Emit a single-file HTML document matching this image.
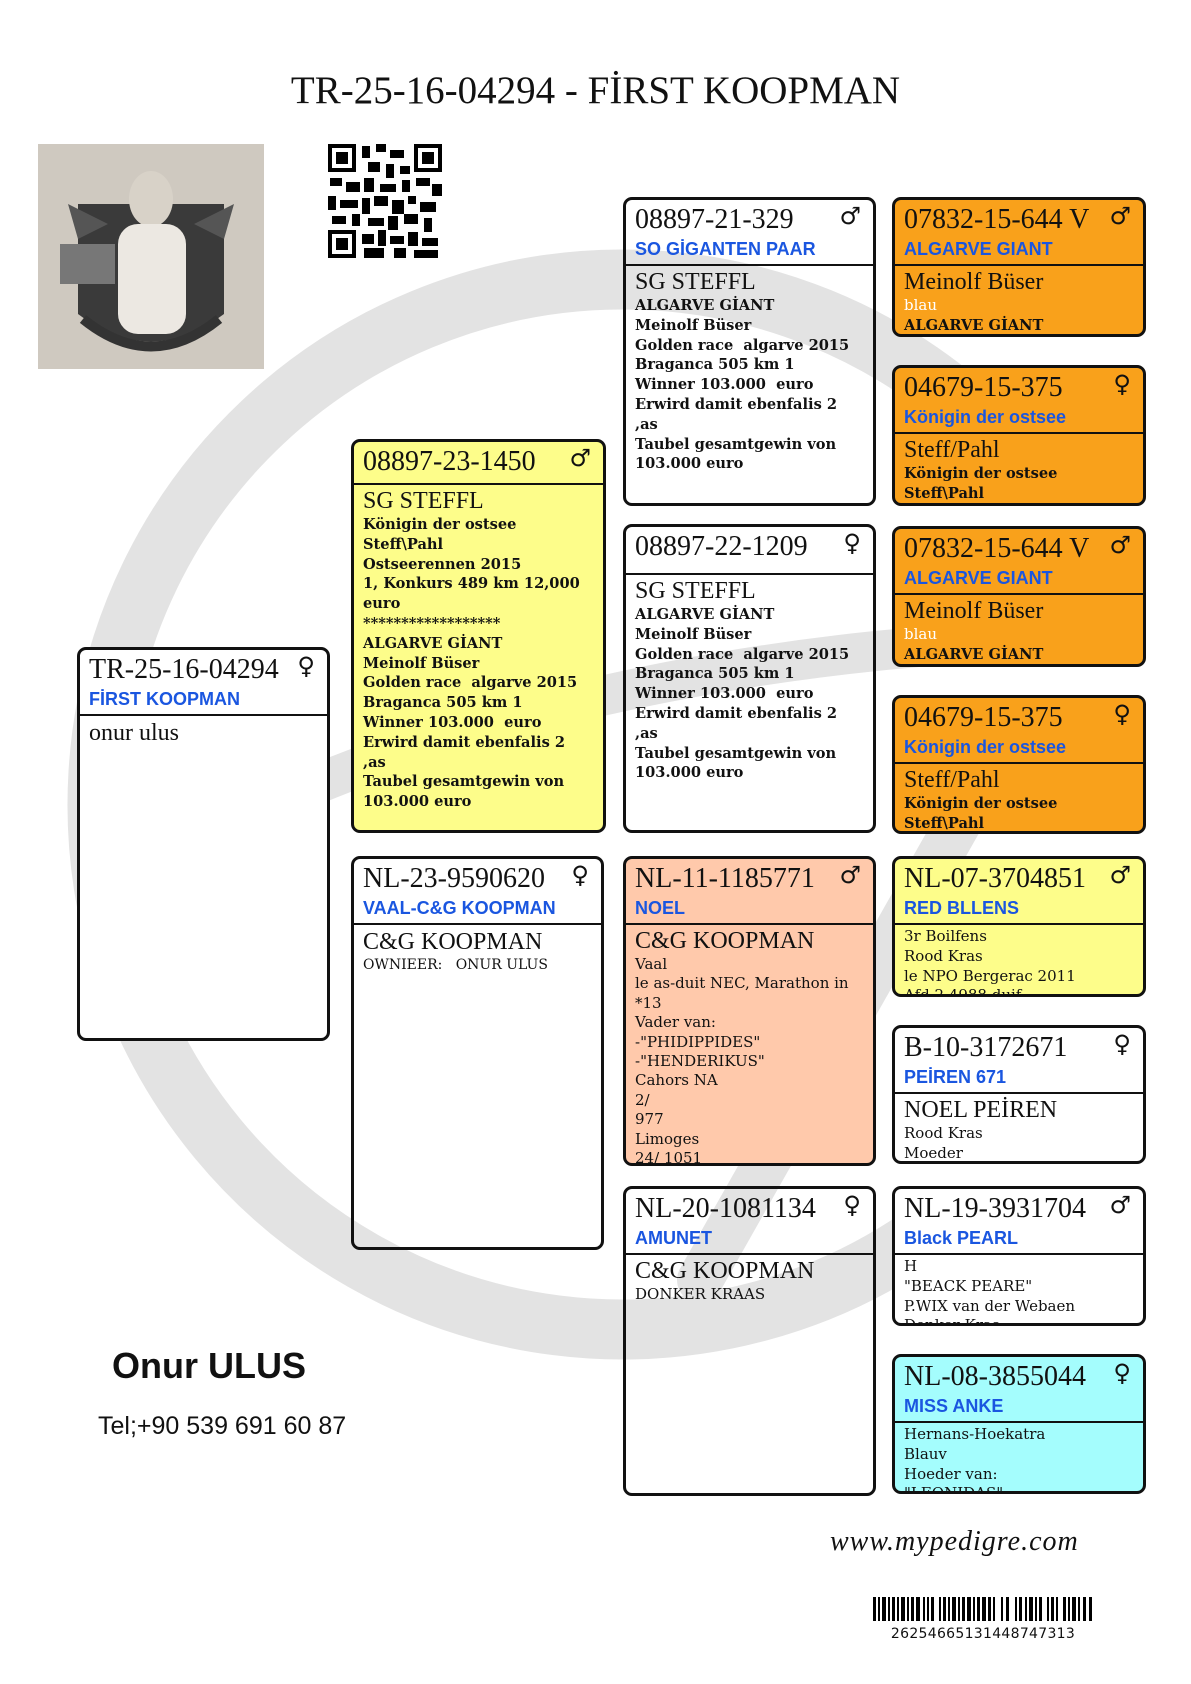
<!DOCTYPE html>
<html><head><meta charset="utf-8"><style>
*{margin:0;padding:0;box-sizing:border-box}
body{width:1191px;height:1684px;background:#fff;position:relative;overflow:hidden;font-family:"Liberation Serif",serif;color:#111}
.a{position:absolute}
.box{position:absolute;border:3px solid #111;border-radius:9px;overflow:hidden;background:#fff}
.id{position:absolute;left:9px;top:4px;font-size:28px;line-height:32px;white-space:nowrap}
.sx{position:absolute;right:12px;top:2px;font-size:24px;line-height:28px;font-family:"DejaVu Sans",sans-serif}
.nm{position:absolute;left:9px;top:38px;font:bold 18px/22px "Liberation Sans",sans-serif;color:#1a56e0;white-space:nowrap}
.hr{position:absolute;left:0;right:0;height:2px;background:#111}
.bd{position:absolute;left:9px;right:4px;white-space:nowrap}
.big{font-size:24px;line-height:28px}
.b{font-family:"DejaVu Serif",serif;font-weight:bold;font-size:14.6px;line-height:19.8px}
.r{font-family:"DejaVu Serif",serif;font-size:15px;line-height:19.8px}
.w{color:#fff}
.org{background:#f9a11b}.yel{background:#fdfd8a}.sal{background:#ffc9ab}.cy{background:#a4fdfd}
</style></head><body>

<svg class="a" style="left:0;top:0" width="1191" height="1684">
<g fill="none" stroke="#e3e3e3" stroke-width="60" stroke-linecap="round">
<path d="M 980 420 A 525 525 0 1 0 930 1230"/>
<path d="M 280 800 C 500 700 820 640 1080 640" stroke-width="40"/>
<path d="M 700 1280 L 960 820" stroke-width="46"/>
</g>
</svg>

<div class="a" style="left:0;top:68px;width:1191px;text-align:center;font-size:39px;line-height:46px">TR-25-16-04294 - FİRST KOOPMAN</div>

<svg class="a" style="left:38px;top:144px" width="226" height="225">
<rect width="226" height="225" fill="#cfc9c0"/>
<path d="M40 60 L186 60 L186 170 Q113 225 40 170Z" fill="#3a3a3a"/>
<ellipse cx="113" cy="55" rx="22" ry="28" fill="#d8d2c8"/>
<rect x="80" y="80" width="68" height="110" rx="20" fill="#ece8e2"/>
<rect x="22" y="100" width="55" height="40" fill="#777"/>
<path d="M30 60 L70 80 L40 95Z M196 60 L156 80 L186 95Z" fill="#555"/>
<path d="M45 175 Q113 230 181 175" stroke="#333" stroke-width="10" fill="none"/>
</svg>

<svg class="a" style="left:328px;top:144px" width="114" height="114" shape-rendering="crispEdges">
<rect width="114" height="114" fill="#fff"/>
<g fill="#000">
<rect x="0" y="0" width="28" height="28"/><rect x="86" y="0" width="28" height="28"/><rect x="0" y="86" width="28" height="28"/>
<rect x="34" y="2" width="8" height="12"/><rect x="48" y="0" width="10" height="8"/><rect x="62" y="6" width="14" height="8"/><rect x="40" y="18" width="12" height="10"/><rect x="58" y="20" width="8" height="14"/><rect x="72" y="22" width="10" height="8"/>
<rect x="2" y="34" width="12" height="8"/><rect x="18" y="38" width="14" height="10"/><rect x="36" y="34" width="10" height="14"/><rect x="52" y="40" width="16" height="8"/><rect x="74" y="36" width="8" height="12"/><rect x="88" y="34" width="14" height="8"/><rect x="104" y="40" width="10" height="12"/>
<rect x="0" y="52" width="8" height="14"/><rect x="12" y="56" width="18" height="8"/><rect x="34" y="54" width="8" height="16"/><rect x="46" y="52" width="14" height="10"/><rect x="64" y="56" width="12" height="14"/><rect x="80" y="52" width="8" height="8"/><rect x="92" y="58" width="16" height="10"/>
<rect x="4" y="72" width="14" height="8"/><rect x="24" y="70" width="8" height="12"/><rect x="40" y="74" width="16" height="8"/><rect x="60" y="72" width="10" height="14"/><rect x="76" y="70" width="14" height="10"/><rect x="96" y="74" width="8" height="14"/>
<rect x="34" y="90" width="12" height="10"/><rect x="50" y="86" width="8" height="16"/><rect x="62" y="92" width="14" height="8"/><rect x="80" y="88" width="10" height="14"/><rect x="94" y="94" width="16" height="8"/><rect x="36" y="104" width="20" height="10"/><rect x="66" y="104" width="12" height="10"/><rect x="86" y="106" width="24" height="8"/>
</g>
<g fill="#fff"><rect x="4" y="4" width="20" height="20"/><rect x="90" y="4" width="20" height="20"/><rect x="4" y="90" width="20" height="20"/></g>
<g fill="#000"><rect x="8" y="8" width="12" height="12"/><rect x="94" y="8" width="12" height="12"/><rect x="8" y="94" width="12" height="12"/></g>
</svg>

<!-- subject -->
<div class="box" style="left:77px;top:647px;width:253px;height:394px">
<div class="id">TR-25-16-04294</div><div class="sx">♀</div>
<div class="nm">FİRST KOOPMAN</div><div class="hr" style="top:64px"></div>
<div class="bd big" style="top:69px">onur ulus</div></div>

<!-- sire -->
<div class="box yel" style="left:351px;top:439px;width:255px;height:394px">
<div class="id">08897-23-1450</div><div class="sx">♂</div>
<div class="hr" style="top:41px"></div>
<div class="bd" style="top:45px"><div class="big">SG STEFFL</div><div class="b">Königin der ostsee<br>Steff\Pahl<br>Ostseerennen 2015<br>1, Konkurs 489 km 12,000<br>euro<br>******************<br>ALGARVE GİANT<br>Meinolf Büser<br>Golden race&nbsp; algarve 2015<br>Braganca 505 km 1<br>Winner 103.000&nbsp; euro<br>Erwird damit ebenfalis 2<br>,as<br>Taubel gesamtgewin von<br>103.000 euro</div></div></div>

<!-- dam -->
<div class="box" style="left:351px;top:856px;width:253px;height:394px;background:transparent">
<div class="id">NL-23-9590620</div><div class="sx">♀</div>
<div class="nm">VAAL-C&amp;G KOOPMAN</div><div class="hr" style="top:64px"></div>
<div class="bd" style="top:69px"><div class="big">C&amp;G KOOPMAN</div><div class="r" style="font-size:14px">OWNIEER:&nbsp;&nbsp;&nbsp;ONUR ULUS</div></div></div>

<!-- col3 -->
<div class="box" style="left:623px;top:197px;width:253px;height:309px;background:transparent">
<div class="id">08897-21-329</div><div class="sx">♂</div>
<div class="nm">SO GİGANTEN PAAR</div><div class="hr" style="top:64px"></div>
<div class="bd" style="top:68px"><div class="big">SG STEFFL</div><div class="b">ALGARVE GİANT<br>Meinolf Büser<br>Golden race&nbsp; algarve 2015<br>Braganca 505 km 1<br>Winner 103.000&nbsp; euro<br>Erwird damit ebenfalis 2<br>,as<br>Taubel gesamtgewin von<br>103.000 euro</div></div></div>

<div class="box" style="left:623px;top:524px;width:253px;height:309px;background:transparent">
<div class="id">08897-22-1209</div><div class="sx">♀</div>
<div class="hr" style="top:46px"></div>
<div class="bd" style="top:50px"><div class="big">SG STEFFL</div><div class="b">ALGARVE GİANT<br>Meinolf Büser<br>Golden race&nbsp; algarve 2015<br>Braganca 505 km 1<br>Winner 103.000&nbsp; euro<br>Erwird damit ebenfalis 2<br>,as<br>Taubel gesamtgewin von<br>103.000 euro</div></div></div>

<div class="box sal" style="left:623px;top:856px;width:253px;height:310px">
<div class="id">NL-11-1185771</div><div class="sx">♂</div>
<div class="nm">NOEL</div><div class="hr" style="top:64px"></div>
<div class="bd" style="top:68px"><div class="big">C&amp;G KOOPMAN</div><div class="r" style="line-height:19.4px">Vaal<br>le as-duit NEC, Marathon in<br>*13<br>Vader van:<br>-"PHIDIPPIDES"<br>-"HENDERIKUS"<br>Cahors NA<br>2/<br>977<br>Limoges<br>24/ 1051</div></div></div>

<div class="box" style="left:623px;top:1186px;width:253px;height:310px;background:transparent">
<div class="id">NL-20-1081134</div><div class="sx">♀</div>
<div class="nm">AMUNET</div><div class="hr" style="top:64px"></div>
<div class="bd" style="top:68px"><div class="big">C&amp;G KOOPMAN</div><div class="r">DONKER KRAAS</div></div></div>

<!-- col4 -->
<div class="box org" style="left:892px;top:197px;width:254px;height:140px">
<div class="id">07832-15-644 V</div><div class="sx">♂</div>
<div class="nm">ALGARVE GIANT</div><div class="hr" style="top:64px"></div>
<div class="bd" style="top:68px"><div class="big">Meinolf Büser</div><div class="r w">blau</div><div class="b">ALGARVE GİANT</div></div></div>

<div class="box org" style="left:892px;top:365px;width:254px;height:141px">
<div class="id">04679-15-375</div><div class="sx">♀</div>
<div class="nm">Königin der ostsee</div><div class="hr" style="top:64px"></div>
<div class="bd" style="top:68px"><div class="big">Steff/Pahl</div><div class="b">Königin der ostsee<br>Steff\Pahl</div></div></div>

<div class="box org" style="left:892px;top:526px;width:254px;height:141px">
<div class="id">07832-15-644 V</div><div class="sx">♂</div>
<div class="nm">ALGARVE GIANT</div><div class="hr" style="top:64px"></div>
<div class="bd" style="top:68px"><div class="big">Meinolf Büser</div><div class="r w">blau</div><div class="b">ALGARVE GİANT</div></div></div>

<div class="box org" style="left:892px;top:695px;width:254px;height:139px">
<div class="id">04679-15-375</div><div class="sx">♀</div>
<div class="nm">Königin der ostsee</div><div class="hr" style="top:64px"></div>
<div class="bd" style="top:68px"><div class="big">Steff/Pahl</div><div class="b">Königin der ostsee<br>Steff\Pahl</div></div></div>

<div class="box yel" style="left:892px;top:856px;width:254px;height:141px">
<div class="id">NL-07-3704851</div><div class="sx">♂</div>
<div class="nm">RED BLLENS</div><div class="hr" style="top:64px"></div>
<div class="bd r" style="top:68px">3r Boilfens<br>Rood Kras<br>le NPO Bergerac 2011<br>Afd 2 4988 duif</div></div>

<div class="box" style="left:892px;top:1025px;width:254px;height:139px">
<div class="id">B-10-3172671</div><div class="sx">♀</div>
<div class="nm">PEİREN 671</div><div class="hr" style="top:64px"></div>
<div class="bd" style="top:68px"><div class="big">NOEL PEİREN</div><div class="r">Rood Kras<br>Moeder</div></div></div>

<div class="box" style="left:892px;top:1186px;width:254px;height:140px">
<div class="id">NL-19-3931704</div><div class="sx">♂</div>
<div class="nm">Black PEARL</div><div class="hr" style="top:64px"></div>
<div class="bd r" style="top:68px">H<br>"BEACK PEARE"<br>P.WIX van der Webaen<br>Donker Kras</div></div>

<div class="box cy" style="left:892px;top:1354px;width:254px;height:140px">
<div class="id">NL-08-3855044</div><div class="sx">♀</div>
<div class="nm">MISS ANKE</div><div class="hr" style="top:64px"></div>
<div class="bd r" style="top:68px">Hernans-Hoekatra<br>Blauv<br>Hoeder van:<br>"LEONIDAS"</div></div>

<div class="a" style="left:112px;top:1345px;font:bold 36px/42px 'Liberation Sans',sans-serif">Onur ULUS</div>
<div class="a" style="left:98px;top:1411px;font:25px/30px 'Liberation Sans',sans-serif">Tel;+90 539 691 60 87</div>

<div class="a" style="left:830px;top:1525px;font:italic 28px/34px 'Liberation Serif',serif;letter-spacing:1px">www.mypedigre.com</div>

<svg class="a" style="left:873px;top:1597px" width="220" height="24" shape-rendering="crispEdges"><g fill="#000">
<rect x="0" width="3" height="24"/><rect x="5" width="2" height="24"/><rect x="9" width="4" height="24"/><rect x="15" width="2" height="24"/><rect x="19" width="3" height="24"/><rect x="24" width="2" height="24"/><rect x="28" width="4" height="24"/><rect x="34" width="2" height="24"/><rect x="38" width="3" height="24"/><rect x="43" width="4" height="24"/><rect x="50" width="2" height="24"/><rect x="54" width="2" height="24"/><rect x="58" width="3" height="24"/><rect x="66" width="2" height="24"/><rect x="70" width="3" height="24"/><rect x="75" width="2" height="24"/><rect x="79" width="4" height="24"/><rect x="85" width="2" height="24"/><rect x="89" width="3" height="24"/><rect x="94" width="4" height="24"/><rect x="100" width="2" height="24"/><rect x="104" width="3" height="24"/><rect x="109" width="4" height="24"/><rect x="115" width="3" height="24"/><rect x="120" width="2" height="24"/><rect x="128" width="2" height="24"/><rect x="133" width="3" height="24"/><rect x="142" width="2" height="24"/><rect x="146" width="3" height="24"/><rect x="152" width="2" height="24"/><rect x="156" width="4" height="24"/><rect x="162" width="2" height="24"/><rect x="166" width="3" height="24"/><rect x="174" width="2" height="24"/><rect x="178" width="3" height="24"/><rect x="183" width="2" height="24"/><rect x="190" width="3" height="24"/><rect x="195" width="2" height="24"/><rect x="199" width="4" height="24"/><rect x="205" width="2" height="24"/><rect x="210" width="3" height="24"/><rect x="216" width="3" height="24"/>
</g></svg>
<div class="a" style="left:873px;top:1625px;width:220px;text-align:center;font:14px/18px 'DejaVu Sans',sans-serif;letter-spacing:0.3px">26254665131448747313</div>

</body></html>
